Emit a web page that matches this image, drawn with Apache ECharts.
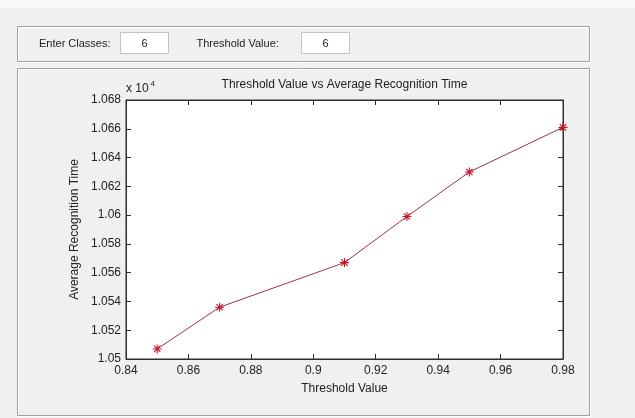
<!DOCTYPE html>
<html>
<head>
<meta charset="utf-8">
<script src="https://cdn.jsdelivr.net/npm/echarts@6/dist/echarts.min.js"></script>
<style>
html,body{margin:0;padding:0;background:#f0f0f0;}
#chart{width:635px;height:418px;}
</style>
</head>
<body>
<div id="chart"></div>
<script>
// Data
const thresholds = [0.85, 0.87, 0.91, 0.93, 0.95, 0.98];
const avgRecognitionTime = [10507, 10536, 10567, 10599, 10630, 10661];
const classesValue = '6';
const thresholdInput = '6';
const titleText = 'Threshold Value vs Average Recognition Time';
const xName = 'Threshold Value';
const yName = 'Average Recognition Time';

const FONT = '"Liberation Sans", Arial, sans-serif';
const TXT = '#222222';
const AX = '#2e2e2e';

const chart = echarts.init(document.getElementById('chart'), null, {renderer: 'canvas'});

const asterisk = 'path://M-0.6,-5L0.6,-5L0.6,5L-0.6,5Z' +
  'M-5,-0.6L5,-0.6L5,0.6L-5,0.6Z' +
  'M-3.12,-3.96L3.96,3.12L3.12,3.96L-3.96,-3.12Z' +
  'M3.96,-3.12L-3.12,3.96L-3.96,3.12L3.12,-3.96Z';

const xCommon = {
  type: 'value', min: 0.84, max: 0.98, interval: 0.02,
  axisLine: {show: true, onZero: false, lineStyle: {color: AX, width: 1}},
  axisTick: {show: true, inside: true, length: 5, lineStyle: {color: AX}},
  splitLine: {show: false}
};
const yCommon = {
  type: 'value', min: 10500, max: 10680, interval: 20,
  axisLine: {show: true, onZero: false, lineStyle: {color: AX, width: 1}},
  axisTick: {show: true, inside: true, length: 5, lineStyle: {color: AX}},
  splitLine: {show: false}
};

const option = {
  backgroundColor: '#f0f0f0',
  animation: false,
  textStyle: {fontFamily: FONT},
  grid: {
    left: 126, top: 100, right: 72, bottom: 59,
    show: true, backgroundColor: '#ffffff', borderColor: AX, borderWidth: 1
  },
  xAxis: [
    Object.assign({}, xCommon, {
      position: 'bottom',
      name: xName, nameLocation: 'middle', nameGap: 24, nameMoveOverlap: false,
      nameTextStyle: {color: TXT, fontSize: 12, fontFamily: FONT},
      axisLabel: {color: TXT, fontSize: 12, fontFamily: FONT, margin: 6}
    }),
    Object.assign({}, xCommon, {position: 'top', axisLabel: {show: false}})
  ],
  yAxis: [
    Object.assign({}, yCommon, {
      position: 'left',
      name: yName, nameLocation: 'middle', nameGap: 45, nameRotate: 90, nameMoveOverlap: false,
      nameTextStyle: {color: TXT, fontSize: 12, fontFamily: FONT},
      axisLabel: {
        color: TXT, fontSize: 12, fontFamily: FONT, margin: 5,
        formatter: v => String(parseFloat((v / 1e4).toFixed(4)))
      }
    }),
    Object.assign({}, yCommon, {position: 'right', axisLabel: {show: false}})
  ],
  series: [{
    type: 'line',
    xAxisIndex: 0, yAxisIndex: 0,
    data: thresholds.map((t, i) => [t, avgRecognitionTime[i]]),
    lineStyle: {color: '#9a3446', width: 1},
    symbol: asterisk,
    symbolSize: 9,
    itemStyle: {color: '#c8142a'},
    showSymbol: true
  }],
  graphic: [
    // top white strip
    {type: 'rect', shape: {x: 0, y: 0, width: 635, height: 8}, style: {fill: '#f9f9f9'}, silent: true},
    // top panel (etched border)
    {type: 'rect', shape: {x: 18.5, y: 27.5, width: 572, height: 35}, style: {fill: 'none', stroke: '#ffffff', lineWidth: 1}, silent: true},
    {type: 'rect', shape: {x: 17.5, y: 26.5, width: 572, height: 35}, style: {fill: 'none', stroke: '#a0a0a0', lineWidth: 1}, silent: true},
    // bottom panel
    {type: 'rect', shape: {x: 18.5, y: 69.5, width: 572, height: 347}, style: {fill: 'none', stroke: '#ffffff', lineWidth: 1}, silent: true},
    {type: 'rect', shape: {x: 17.5, y: 68.5, width: 572, height: 347}, style: {fill: 'none', stroke: '#a0a0a0', lineWidth: 1}, silent: true},
    // labels and boxes
    {type: 'text', style: {x: 39, y: 43.5, text: 'Enter Classes:', fill: TXT, font: '11px ' + FONT, textVerticalAlign: 'middle', textAlign: 'left'}, silent: true},
    {type: 'rect', shape: {x: 120.5, y: 32.5, width: 48, height: 21}, style: {fill: '#ffffff', stroke: '#c4c4c4', lineWidth: 1}, silent: true},
    {type: 'text', style: {x: 144.5, y: 43.5, text: classesValue, fill: TXT, font: '11px ' + FONT, textVerticalAlign: 'middle', textAlign: 'center'}, silent: true},
    {type: 'text', style: {x: 196.5, y: 43.5, text: 'Threshold Value:', fill: TXT, font: '11px ' + FONT, textVerticalAlign: 'middle', textAlign: 'left'}, silent: true},
    {type: 'rect', shape: {x: 301.5, y: 32.5, width: 48, height: 21}, style: {fill: '#ffffff', stroke: '#c4c4c4', lineWidth: 1}, silent: true},
    {type: 'text', style: {x: 325.5, y: 43.5, text: thresholdInput, fill: TXT, font: '11px ' + FONT, textVerticalAlign: 'middle', textAlign: 'center'}, silent: true},
    // chart title
    {type: 'text', style: {x: 344.5, y: 85, text: titleText, fill: TXT, font: '12px ' + FONT, textVerticalAlign: 'middle', textAlign: 'center'}, silent: true},
    // exponent note
    {type: 'text', style: {x: 126, y: 89, text: 'x 10', fill: TXT, font: '12px ' + FONT, textVerticalAlign: 'middle', textAlign: 'left'}, silent: true},
    {type: 'text', style: {x: 150.5, y: 83.5, text: '4', fill: TXT, font: '8px ' + FONT, textVerticalAlign: 'middle', textAlign: 'left'}, silent: true}
  ]
};
chart.setOption(option);
</script>
</body>
</html>
